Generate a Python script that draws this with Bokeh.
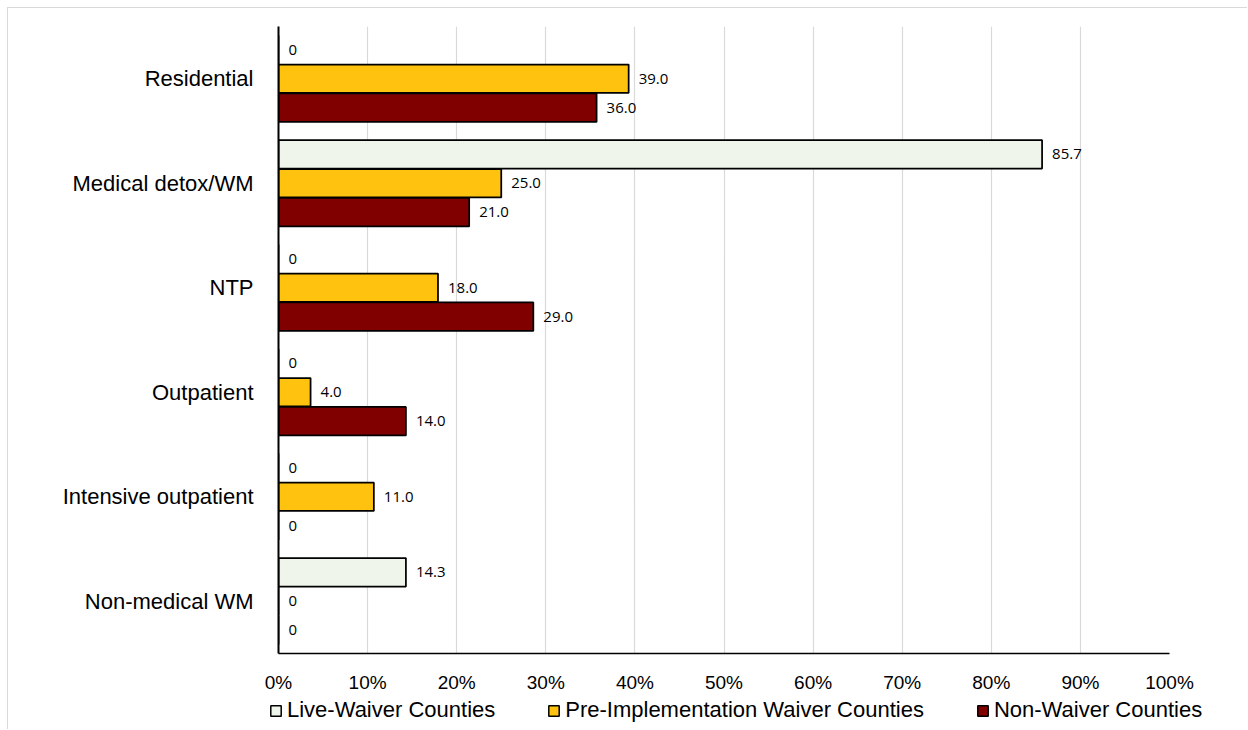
from bokeh.plotting import figure
from bokeh.models import FactorRange, Range1d, FixedTicker, Legend, LegendItem, ColumnDataSource
from bokeh.transform import dodge
from bokeh.core.properties import value
from bokeh.embed import file_html
from bokeh.resources import INLINE

categories = ["Residential", "Medical detox/WM", "NTP", "Outpatient",
              "Intensive outpatient", "Non-medical WM"]
series = ["Live-Waiver Counties", "Pre-Implementation Waiver Counties", "Non-Waiver Counties"]

live_values = [0, 85.7, 0, 0, 0, 14.3]
pre_values = [39.3, 25.0, 17.9, 3.6, 10.7, 0]
non_values = [35.7, 21.4, 28.6, 14.3, 0, 0]

live_labels = ["0", "85.7", "0", "0", "0", "14.3"]
pre_labels = ["39.0", "25.0", "18.0", "4.0", "11.0", "0"]
non_labels = ["36.0", "21.0", "29.0", "14.0", "0", "0"]

colors = ["#f0f5eb", "#ffc30f", "#800000"]

tick_values = [0, 10, 20, 30, 40, 50, 60, 70, 80, 90, 100]
tick_labels = ["0%", "10%", "20%", "30%", "40%", "50%", "60%", "70%", "80%", "90%", "100%"]

src = ColumnDataSource(dict(
    cat=categories,
    live=live_values, pre=pre_values, non=non_values,
    live_lab=live_labels, pre_lab=pre_labels, non_lab=non_labels,
))

p = figure(width=1240, height=689,
           y_range=FactorRange(factors=categories[::-1]),
           x_range=Range1d(0, 100),
           output_backend="svg", toolbar_location=None,
           min_border_left=270, min_border_right=79,
           min_border_top=18, min_border_bottom=44)
p.styles = {"margin": "7px 0 0 7px",
            "border-top": "1px solid #d9d9d9", "border-left": "1px solid #d9d9d9"}
p.outline_line_color = None
p.background_fill_color = "white"
p.border_fill_color = "white"

offsets = [0.277, 0.0, -0.277]
cols = ["live", "pre", "non"]
labcols = ["live_lab", "pre_lab", "non_lab"]
for off, col, lab, color in zip(offsets, cols, labcols, colors):
    p.hbar(y=dodge("cat", off, range=p.y_range), left=0, right=col, height=0.272,
           fill_color=color, line_color="black", line_width=1.75, source=src)
    p.text(x=col, y=dodge("cat", off, range=p.y_range), text=lab, source=src,
           x_offset=10, text_align="left", text_baseline="middle",
           text_font=value("Open Sans"), text_font_size="15px", text_color="black")

# axes
p.xaxis.ticker = FixedTicker(ticks=tick_values)
p.xaxis.major_label_overrides = {v: t for v, t in zip(tick_values, tick_labels)}
p.xaxis.major_label_text_font = "Liberation Sans"
p.xaxis.major_label_text_font_size = "19px"
p.xaxis.major_label_text_color = "black"
p.xaxis.major_tick_line_color = None
p.xaxis.minor_tick_line_color = None
p.xaxis.axis_line_color = "black"
p.xaxis.axis_line_width = 1.5
p.xaxis.major_label_standoff = 12

p.yaxis.major_label_text_font = "Liberation Sans"
p.yaxis.major_label_text_font_size = "22px"
p.yaxis.major_label_text_color = "black"
p.yaxis.major_tick_line_color = None
p.yaxis.minor_tick_line_color = None
p.yaxis.axis_line_color = "black"
p.yaxis.axis_line_width = 2
p.yaxis.major_label_standoff = 19

p.xgrid.ticker = FixedTicker(ticks=tick_values)
p.xgrid.grid_line_color = "#d9d9d9"
p.xgrid.grid_line_width = 1.2
p.ygrid.grid_line_color = None

# legend strip below the chart: its renderers are hidden, only the legend shows
leg = figure(width=1240, height=33, y_range=FactorRange(factors=categories[::-1]),
             x_range=Range1d(0, 100),
             output_backend="svg", toolbar_location=None, min_border=0)
leg.styles = {"margin-left": "7px", "border-left": "1px solid #d9d9d9"}
leg.axis.visible = False
leg.grid.grid_line_color = None
leg.outline_line_color = None
leg_renderers = []
for col, c in zip(cols, colors):
    r = leg.hbar(y="cat", left=0, right=col, height=0.5, fill_color=c,
                 line_color="black", line_width=1.5, source=src)
    r.visible = False
    leg_renderers.append(r)
legend = Legend(items=[LegendItem(label=s, renderers=[r]) for s, r in zip(series, leg_renderers)],
                location=(261, 6), orientation="horizontal", spacing=52,
                label_standoff=5, glyph_width=13, glyph_height=13,
                padding=0, margin=0, border_line_color=None, background_fill_alpha=0,
                inactive_fill_alpha=0,
                label_text_font="Liberation Sans", label_text_font_size="22px",
                label_text_color="black", label_height=22)
leg.add_layout(legend)

open("out.html", "w").write(file_html([p, leg], INLINE))
